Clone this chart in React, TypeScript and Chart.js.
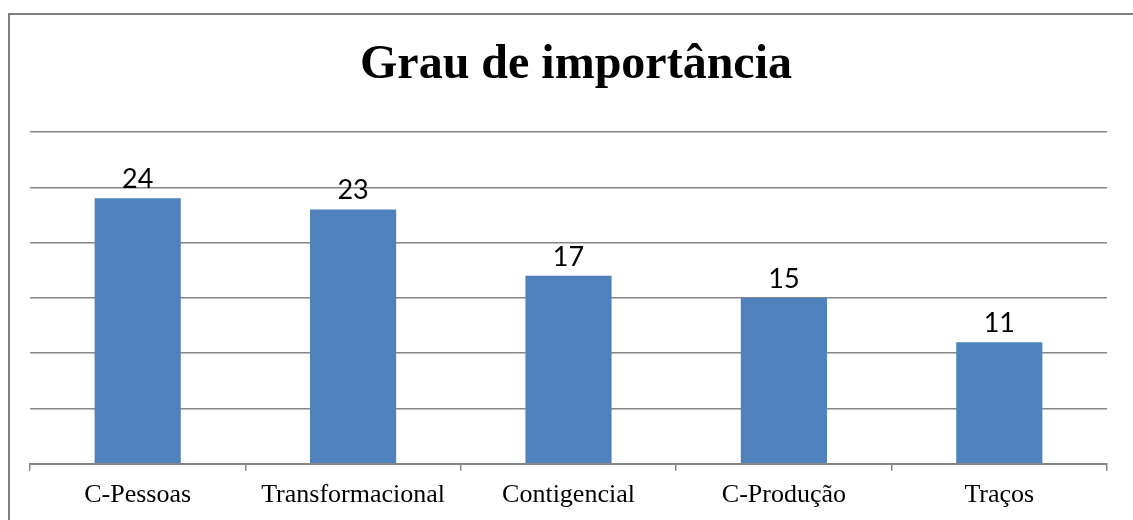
import React, { useEffect, useRef } from "react";
import { Chart, registerables } from "chart.js";

Chart.register(...registerables);

const chartTitle = "Grau de importância";
const categories = ["C-Pessoas", "Transformacional", "Contigencial", "C-Produção", "Traços"];
const values = [24, 23, 17, 15, 11];
const yMin = 0;
const yMax = 30;
const yStep = 5;

const titlePlugin = {
  id: "customTitle",
  afterDraw(chart: any) {
    const ctx = chart.ctx;
    ctx.save();
    ctx.font = 'bold 48px "Liberation Serif", "Times New Roman", serif';
    ctx.fillStyle = "#000";
    ctx.textAlign = "center";
    ctx.textBaseline = "alphabetic";
    ctx.fillText(chartTitle, 576, 78);
    ctx.restore();
  },
};

const labelPlugin = {
  id: "valueLabels",
  afterDatasetsDraw(chart: any) {
    const ctx = chart.ctx;
    const meta = chart.getDatasetMeta(0);
    ctx.save();
    ctx.font = '27px Lato, "Open Sans", sans-serif';
    ctx.fillStyle = "#000";
    ctx.textAlign = "center";
    ctx.textBaseline = "alphabetic";
    meta.data.forEach((bar: any, i: number) => {
      ctx.fillText(String(values[i]), bar.x, bar.y - 10);
    });
    ctx.restore();
  },
};

export default function App() {
  const ref = useRef<HTMLCanvasElement | null>(null);
  useEffect(() => {
    if (!ref.current) return;
    const chart = new Chart(ref.current, {
      type: "bar",
      data: {
        labels: categories,
        datasets: [
          {
            data: values,
            backgroundColor: "#4F81BD",
            borderWidth: 0,
            barPercentage: 0.4,
            categoryPercentage: 1.0,
          },
        ],
      },
      options: {
        animation: false,
        responsive: false,
        maintainAspectRatio: false,
        layout: { padding: { top: 132, left: 30, right: 26, bottom: 0 } },
        plugins: {
          legend: { display: false },
          title: { display: false },
          tooltip: { enabled: false },
        },
        scales: {
          x: {
            grid: {
              display: true,
              drawOnChartArea: false,
              drawTicks: true,
              tickLength: 7,
              color: "#868686",
              lineWidth: 1.5,
              offset: true,
            },
            border: { display: true, color: "#868686", width: 2 },
            ticks: {
              color: "#000",
              padding: 9,
              font: { family: '"Liberation Serif", "Times New Roman", serif', size: 26 },
              maxRotation: 0,
              autoSkip: false,
            },
          },
          y: {
            min: yMin,
            max: yMax,
            ticks: { display: false, stepSize: yStep },
            grid: { color: "#868686", lineWidth: 1.5, drawTicks: false },
            border: { display: false },
          },
        },
      },
      plugins: [titlePlugin, labelPlugin],
    });
    return () => chart.destroy();
  }, []);

  return (
    <div style={{ position: "fixed", left: 0, top: 0, width: 1133, height: 520, overflow: "hidden", background: "#fff" }}>
      <div
        style={{
          position: "absolute",
          left: 8,
          top: 13,
          width: 1160,
          height: 560,
          border: "2px solid #7f7f7f",
          boxSizing: "border-box",
        }}
      />
      <canvas ref={ref} width={1133} height={520} style={{ position: "absolute", left: 0, top: 0 }} />
    </div>
  );
}
